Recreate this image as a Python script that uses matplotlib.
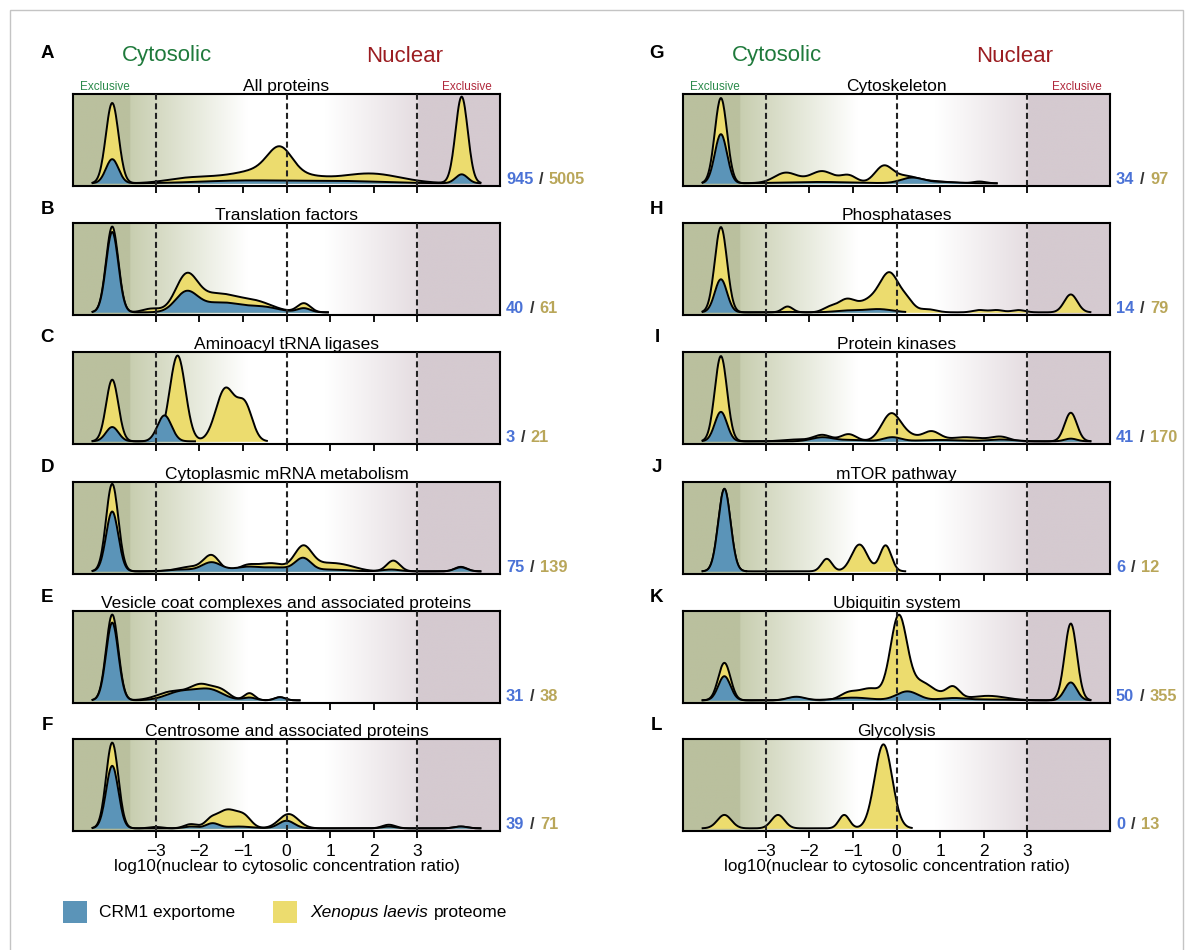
import numpy as np
import matplotlib
matplotlib.use("Agg")
import matplotlib.pyplot as plt
from matplotlib.offsetbox import TextArea, HPacker, AnnotationBbox
from matplotlib.patches import Rectangle

plt.rcParams['font.family'] = ['Liberation Sans', 'DejaVu Sans']

# ---- data ----
letters = list("ABCDEFGHIJKL")
titles = ["All proteins", "Translation factors", "Aminoacyl tRNA ligases",
          "Cytoplasmic mRNA metabolism", "Vesicle coat complexes and associated proteins",
          "Centrosome and associated proteins",
          "Cytoskeleton", "Phosphatases", "Protein kinases", "mTOR pathway",
          "Ubiquitin system", "Glycolysis"]
n_crm1 = [945, 40, 3, 75, 31, 39, 34, 14, 41, 6, 50, 0]
n_xen = [5005, 61, 21, 139, 38, 71, 97, 79, 170, 12, 355, 13]
ticks = [-3, -2, -1, 0, 1, 2, 3]
borders = [-3, 0, 3]

# density peaks (position, height as fraction of panel, width)
xen_A = [(-4.0, 0.90, 0.145), (4.02, 0.97, 0.14), (-2.3, 0.05, 0.5), (-1.2, 0.08, 0.6),
         (-0.6, 0.08, 0.4), (-0.15, 0.30, 0.28), (0.3, 0.08, 0.5), (1.9, 0.11, 0.7)]
crm_A = [(-4.0, 0.27, 0.145), (4.02, 0.10, 0.14), (-1.0, 0.03, 1.0), (1.2, 0.025, 1.0)]
xen_B = [(-4.0, 0.96, 0.14), (-3.1, 0.04, 0.2), (-2.3, 0.38, 0.25), (-1.6, 0.2, 0.45),
         (-0.7, 0.11, 0.4), (0.4, 0.10, 0.15)]
crm_B = [(-4.0, 0.90, 0.14), (-2.3, 0.21, 0.25), (-1.5, 0.11, 0.5), (-0.5, 0.05, 0.35),
         (0.4, 0.045, 0.15)]
xen_C = [(-4.0, 0.69, 0.14), (-2.5, 0.96, 0.18), (-1.4, 0.59, 0.22), (-0.95, 0.38, 0.17)]
crm_C = [(-4.0, 0.16, 0.145), (-2.8, 0.29, 0.16)]
xen_D = [(-4.0, 0.98, 0.14), (-2.2, 0.05, 0.3), (-1.72, 0.17, 0.18), (-0.9, 0.06, 0.2),
         (-0.35, 0.09, 0.3), (0.38, 0.26, 0.2), (0.9, 0.08, 0.35), (1.4, 0.04, 0.3),
         (2.45, 0.12, 0.15), (4.0, 0.05, 0.14)]
crm_D = [(-4.0, 0.67, 0.14), (-2.4, 0.02, 0.3), (-1.72, 0.10, 0.22), (-0.9, 0.05, 0.3),
         (-0.2, 0.04, 0.3), (0.38, 0.14, 0.18), (1.0, 0.02, 0.4), (2.4, 0.02, 0.2),
         (4.0, 0.045, 0.14)]
xen_E = [(-4.0, 0.96, 0.14), (-2.6, 0.10, 0.35), (-1.95, 0.16, 0.25), (-1.5, 0.1, 0.2),
         (-0.85, 0.08, 0.12), (-0.15, 0.035, 0.12)]
crm_E = [(-4.0, 0.87, 0.14), (-2.4, 0.10, 0.35), (-1.75, 0.11, 0.3), (-0.85, 0.03, 0.15),
         (-0.15, 0.035, 0.12)]
xen_F = [(-4.0, 0.96, 0.14), (-3.0, 0.015, 0.15), (-2.2, 0.045, 0.15), (-1.75, 0.05, 0.12),
         (-1.35, 0.21, 0.28), (-0.95, 0.08, 0.15), (0.05, 0.16, 0.22), (2.35, 0.04, 0.15),
         (4.0, 0.02, 0.15)]
crm_F = [(-4.0, 0.70, 0.14), (-2.2, 0.02, 0.15), (-1.7, 0.055, 0.15), (-1.1, 0.02, 0.3),
         (0.0, 0.085, 0.18), (2.35, 0.02, 0.15), (4.0, 0.02, 0.15)]
xen_G = [(-4.03, 0.955, 0.14), (-2.0, 0.03, 0.6), (-2.55, 0.1, 0.25), (-1.7, 0.11, 0.25),
         (-1.1, 0.08, 0.18), (-0.3, 0.18, 0.2), (0.2, 0.08, 0.3), (0.9, 0.02, 0.3),
         (1.9, 0.02, 0.15)]
crm_G = [(-4.03, 0.55, 0.14), (-1.8, 0.015, 0.8), (0.35, 0.06, 0.25), (1.0, 0.015, 0.4)]
xen_H = [(-4.03, 0.955, 0.14), (-2.5, 0.065, 0.12), (-1.55, 0.05, 0.15), (-1.15, 0.14, 0.2),
         (-0.6, 0.13, 0.25), (-0.15, 0.42, 0.22), (0.25, 0.1, 0.15), (0.7, 0.035, 0.2),
         (1.9, 0.025, 0.15), (2.3, 0.025, 0.15), (2.8, 0.025, 0.15), (4.0, 0.2, 0.15)]
crm_H = [(-4.03, 0.37, 0.14), (-2.5, 0.005, 0.2), (-1.1, 0.02, 0.3), (-0.4, 0.035, 0.3)]
xen_I = [(-4.03, 0.955, 0.14), (-2.3, 0.02, 0.3), (-1.7, 0.07, 0.2), (-1.1, 0.08, 0.18),
         (-0.12, 0.31, 0.22), (0.3, 0.05, 0.2), (0.8, 0.11, 0.2), (1.5, 0.04, 0.3),
         (2.0, 0.02, 0.3), (2.4, 0.045, 0.2), (4.0, 0.32, 0.14)]
crm_I = [(-4.03, 0.33, 0.14), (-1.7, 0.045, 0.25), (-1.0, 0.015, 0.3), (-0.1, 0.045, 0.2),
         (1.0, 0.015, 0.5), (2.4, 0.02, 0.3), (4.0, 0.03, 0.14)]
xen_J = [(-3.95, 0.92, 0.14), (-1.6, 0.14, 0.12), (-0.85, 0.30, 0.18), (-0.25, 0.29, 0.13)]
crm_J = [(-3.95, 0.925, 0.14)]
xen_K = [(-3.95, 0.42, 0.14), (-2.3, 0.03, 0.2), (-1.1, 0.08, 0.2), (-0.6, 0.13, 0.25),
         (0.05, 0.93, 0.19), (0.55, 0.18, 0.25), (1.0, 0.05, 0.3), (1.3, 0.12, 0.15),
         (2.1, 0.05, 0.4), (4.0, 0.86, 0.14)]
crm_K = [(-3.95, 0.27, 0.14), (-2.3, 0.04, 0.2), (-1.0, 0.03, 0.4), (0.25, 0.1, 0.25),
         (1.3, 0.025, 0.3), (2.2, 0.01, 0.4), (4.0, 0.2, 0.14)]
xen_L = [(-3.95, 0.15, 0.16), (-2.72, 0.15, 0.15), (-1.2, 0.15, 0.12), (-0.3, 0.94, 0.2)]
crm_L = []

xen_peaks = [xen_A, xen_B, xen_C, xen_D, xen_E, xen_F, xen_G, xen_H, xen_I, xen_J, xen_K, xen_L]
crm_peaks = [crm_A, crm_B, crm_C, crm_D, crm_E, crm_F, crm_G, crm_H, crm_I, crm_J, crm_K, crm_L]
# where each curve starts / ends on the x axis
xen_span = [(-4.45, 4.45), (-4.45, 0.95), (-4.45, -0.45), (-4.45, 4.45), (-4.45, 0.3), (-4.45, 4.45),
            (-4.45, 2.3), (-4.45, 4.45), (-4.45, 4.45), (-4.45, 0.2), (-4.45, 4.45), (-4.45, 0.35)]
crm_span = [(-4.45, 4.45), (-4.45, 0.95), (-4.45, -2.1), (-4.45, 4.45), (-4.45, 0.3), (-4.45, 4.45),
            (-4.45, 2.3), (-4.45, 0.2), (-4.45, 4.45), (-4.45, -3.45), (-4.45, 4.45), None]

# ---- style ----
W, H = 1193, 950
YEL = '#ecdc6e'
BLU = '#5b94b8'
TXT_BLU = '#4a72d6'
TXT_YEL = '#b9a659'
GREEN = '#1f7a3c'
RED = '#9b1c20'
XL = (-4.9, 4.9)
YL = (-0.03, 1.0)


def density(x, peaks):
    y = np.zeros_like(x)
    for c, h, s in peaks:
        y += h * np.exp(-0.5 * ((x - c) / s) ** 2)
    return y


# background: olive (cytosolic) -> white -> mauve (nuclear)
bx = np.linspace(XL[0], XL[1], 900)
sx = [-4.9, -3.6, -3.58, -0.9, 0.9, 3.0, 3.05, 4.9]
sc = np.array([(186, 192, 158), (186, 192, 158), (200, 206, 176), (255, 255, 255),
               (255, 255, 255), (229, 221, 225), (213, 202, 208), (213, 202, 208)]) / 255
bg = np.stack([np.interp(bx, sx, sc[:, k]) for k in range(3)], axis=-1)[None, :, :]

fig = plt.figure(figsize=(W / 100, H / 100), dpi=100)
fig.add_artist(Rectangle((10 / W, -0.01), 1173 / W, 1 - 10 / H + 0.01, transform=fig.transFigure,
                         fill=False, edgecolor='#c4c4c4', lw=1))

col_x = [73, 683]
col_w = 427
row_top = [94, 223, 352, 482, 611, 739]
row_h = 92

for i in range(12):
    col, row = divmod(i, 6)
    x0 = col_x[col]
    top = row_top[row]
    ax = fig.add_axes([x0 / W, 1 - (top + row_h) / H, col_w / W, row_h / H])
    ax.imshow(bg, extent=[XL[0], XL[1], YL[0], YL[1]], aspect='auto', zorder=0,
              interpolation='bilinear')

    a, b = xen_span[i]
    xs = np.linspace(a, b, 500)
    ys = density(xs, xen_peaks[i])
    ax.fill_between(xs, 0, ys, color=YEL, lw=0, zorder=2)
    ax.plot(xs, ys, color='k', lw=1.4, zorder=2.2)
    if crm_span[i] is not None:
        a, b = crm_span[i]
        xs = np.linspace(a, b, 500)
        ys = density(xs, crm_peaks[i])
        ax.fill_between(xs, 0, ys, color=BLU, lw=0, zorder=2.4)
        ax.plot(xs, ys, color='k', lw=1.4, zorder=2.5)

    for v in borders:
        ax.axvline(v, color='#222222', lw=1.5, ls=(0, (2.9, 1.7)), zorder=3)

    ax.set_xlim(*XL)
    ax.set_ylim(*YL)
    ax.set_yticks([])
    ax.set_xticks(ticks)
    ax.tick_params(axis='x', direction='out', length=5, width=1.3, pad=4, labelsize=12.5)
    for s in ax.spines.values():
        s.set_linewidth(1.5)
    if row == 5:
        ax.set_xticklabels([str(t).replace('-', '\u2212') for t in ticks])
        ax.set_xlabel('log10(nuclear to cytosolic concentration ratio)', fontsize=12.3, labelpad=0)
    else:
        ax.set_xticklabels([])

    ax.set_title(titles[i], fontsize=12.5, pad=2)

    # letters
    ly = 53 if row == 0 else top - 14
    fig.text((x0 - 26) / W, 1 - ly / H, letters[i], fontsize=13.5, fontweight='bold',
             ha='center', va='center')

    if row == 0:
        ax.text(-2.75, 1 + 38 / row_h, 'Cytosolic', color=GREEN, fontsize=16,
                ha='center', va='center', transform=ax.get_xaxis_transform())
        ax.text(2.7, 1 + 38 / row_h, 'Nuclear', color=RED, fontsize=16,
                ha='center', va='center', transform=ax.get_xaxis_transform())
        ax.text(7 / col_w, 1 + 7 / row_h, 'Exclusive', color='#2a8a4a', fontsize=8.5,
                ha='left', va='center', transform=ax.transAxes)
        ax.text(1 - 8 / col_w, 1 + 7 / row_h, 'Exclusive', color='#b0283c', fontsize=8.5,
                ha='right', va='center', transform=ax.transAxes)

    # counts
    parts = [TextArea(str(n_crm1[i]), textprops=dict(color=TXT_BLU, fontweight='bold', fontsize=11.8)),
             TextArea('/', textprops=dict(color='#333333', fontweight='bold', fontsize=11.8)),
             TextArea(str(n_xen[i]), textprops=dict(color=TXT_YEL, fontweight='bold', fontsize=11.8))]
    pack = HPacker(children=parts, pad=0, sep=4, align='baseline')
    ab = AnnotationBbox(pack, (1.0, 0.075), xycoords='axes fraction', xybox=(6, 0),
                        boxcoords='offset pixels', box_alignment=(0, 0.5), frameon=False, pad=0)
    ax.add_artist(ab)

# legend
fig.add_artist(Rectangle((63 / W, 1 - 923 / H), 24 / W, 22 / H, transform=fig.transFigure,
                         facecolor=BLU, edgecolor='none'))
fig.text(99 / W, 1 - 912 / H, 'CRM1 exportome', fontsize=12.5, va='center', ha='left')
fig.add_artist(Rectangle((273 / W, 1 - 923 / H), 24 / W, 22 / H, transform=fig.transFigure,
                         facecolor=YEL, edgecolor='none'))
leg = HPacker(children=[TextArea('Xenopus laevis', textprops=dict(fontsize=12.5, style='italic')),
                        TextArea('proteome', textprops=dict(fontsize=12.5))],
              pad=0, sep=4, align='baseline')
fig.add_artist(AnnotationBbox(leg, (310, H - 912), xycoords='figure pixels', box_alignment=(0, 0.5),
                              frameon=False, pad=0))

fig.savefig('out.png', dpi=100)
